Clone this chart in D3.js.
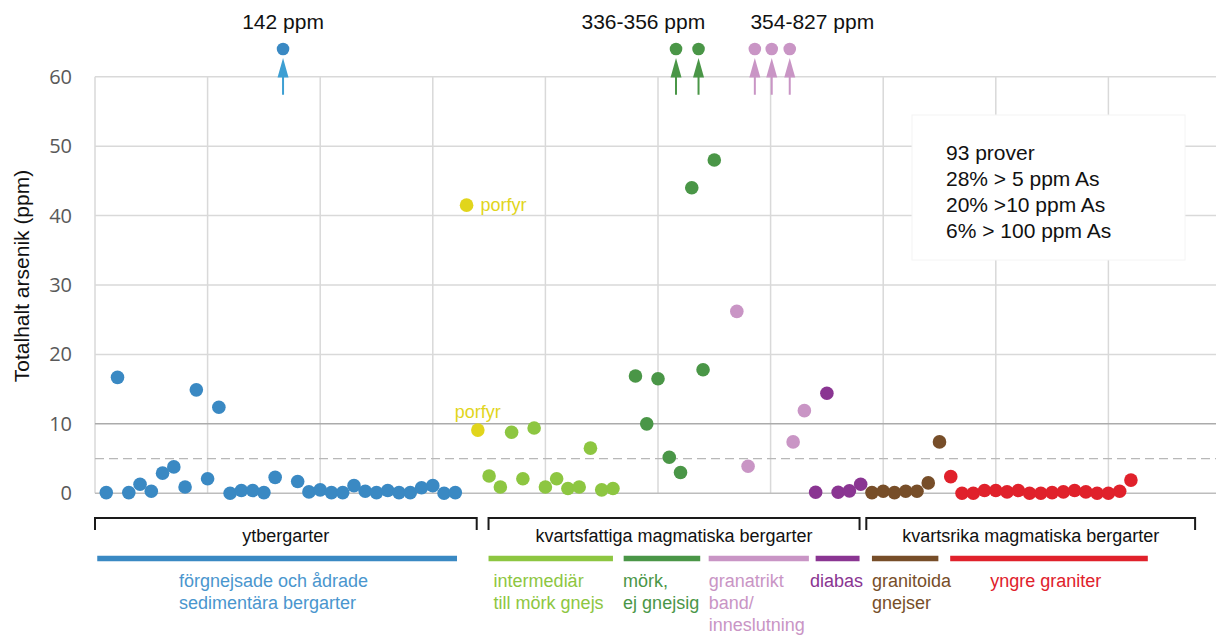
<!DOCTYPE html>
<html>
<head>
<meta charset="utf-8">
<script src="https://d3js.org/d3.v7.min.js"></script>
<style>
body { margin: 0; background: #fff; }
svg { display: block; font-family: "Liberation Sans", Arial, sans-serif; }
.tick-label { font-family: "Open Sans", sans-serif; font-size: 20px; fill: #595959; }
.grid { stroke: #d9d9d9; stroke-width: 1.5; }
</style>
</head>
<body>
<div id="chart"></div>
<script>
// Sample values (ppm As) per rock group, by sample number; null = off scale (drawn on top)
var sedValues = [0.1, 16.7, 0.1, 1.3, 0.3, 2.9, 3.8, 0.9, 14.9, 2.1, 12.4, 0, 0.4, 0.4, 0.1, 2.3,
  null, 1.7, 0.2, 0.5, 0.1, 0.1, 1.1, 0.3, 0.1, 0.4, 0.1, 0.1, 0.8, 1.1, 0, 0.1];
var porfyrValues = [41.5, 9.1];
var intermValues = [2.5, 0.9, 8.8, 2.1, 9.4, 0.9, 2.1, 0.7, 0.9, 6.5, 0.5, 0.7];
var morkValues = [null, 16.9, 10.0, 16.5, 5.2, 3.0, 44.0, 17.8, 48.0, null];
var granatValues = [26.2, 3.9, null, null, null, 7.4, 11.9];
var diabasValues = [0.15, 14.4, 0.15, 0.35, 1.3];
var granitoidValues = [0.1, 0.3, 0.1, 0.3, 0.3, 1.5, 7.4];
var yngreValues = [2.4, 0, 0, 0.4, 0.4, 0.2, 0.4, 0, 0, 0.1, 0.2, 0.4, 0.2, 0, 0, 0.3, 1.9];

// Group definitions: first sample number, colour, legend bar extent (sample units), label lines
var groups = [
  { values: sedValues, first: 1, color: "#3a89c3", text: "#4a96ce", bar: [0.2, 32.15], label: ["förgnejsade och ådrade", "sedimentära bergarter"], lx: 7.45 },
  { values: porfyrValues, first: 33, color: "#e1d51c", text: "#e1d51c", bar: null, label: [], lx: 0 },
  { values: intermValues, first: 35, color: "#8dc641", text: "#8dc641", bar: [34.95, 46.0], label: ["intermediär", "till mörk gnejs"], lx: 35.4 },
  { values: morkValues, first: 47, color: "#4a9647", text: "#4a9647", bar: [46.95, 53.75], label: ["mörk,", "ej gnejsig"], lx: 46.9 },
  { values: granatValues, first: 57, color: "#c995c5", text: "#c995c5", bar: [54.5, 63.4], label: ["granatrikt", "band/", "inneslutning"], lx: 54.5 },
  { values: diabasValues, first: 64, color: "#8a3592", text: "#8a3592", bar: [64.0, 67.9], label: ["diabas"], lx: 63.5 },
  { values: granitoidValues, first: 69, color: "#774e29", text: "#774e29", bar: [69.0, 74.9], label: ["granitoida", "gnejser"], lx: 69.0 },
  { values: yngreValues, first: 76, color: "#e0212b", text: "#e0212b", bar: [75.95, 93.5], label: ["yngre graniter"], lx: 79.5 }
];

// Off-scale samples, shown as dots with arrows above the plot
var offScale = [
  { x: 16.7, color: "#3a89c3", arrow: "#3d9fd3" },
  { x: 51.6, color: "#4a9647", arrow: "#4a9647" },
  { x: 53.6, color: "#4a9647", arrow: "#4a9647" },
  { x: 58.6, color: "#c995c5", arrow: "#c995c5" },
  { x: 60.1, color: "#c995c5", arrow: "#c995c5" },
  { x: 61.7, color: "#c995c5", arrow: "#c995c5" }
];
var offLabels = [
  { x: 16.7, text: "142 ppm" },
  { x: 48.7, text: "336-356 ppm" },
  { x: 63.7, text: "354-827 ppm" }
];

// Main rock classes (brackets)
var classes = [
  { name: "ytbergarter", range: [0, 33.9] },
  { name: "kvartsfattiga magmatiska bergarter", range: [34.95, 67.9] },
  { name: "kvartsrika magmatiska bergarter", range: [68.5, 97.7] }
];

var yTicks = [0, 10, 20, 30, 40, 50, 60];
var xTicks = d3.range(0, 101, 10);
var statLines = ["93 prover", "28% > 5 ppm As", "20% >10 ppm As", "6% > 100 ppm As"];

var width = 1216, height = 635;
var xScale = d3.scaleLinear().domain([0, 100]).range([95, 1221]);
var yScale = d3.scaleLinear().domain([0, 60]).range([493.3, 76.7]);

var svg = d3.select("#chart").append("svg").attr("width", width).attr("height", height);

// Grid
svg.append("g").selectAll("line").data(xTicks).enter().append("line")
  .attr("class", "grid")
  .attr("x1", function (d) { return xScale(d); }).attr("x2", function (d) { return xScale(d); })
  .attr("y1", yScale(60)).attr("y2", yScale(0));
svg.append("g").selectAll("line").data(yTicks).enter().append("line")
  .attr("class", "grid")
  .attr("x1", xScale(0)).attr("x2", xScale(100))
  .attr("y1", function (d) { return yScale(d); }).attr("y2", function (d) { return yScale(d); })
  .style("stroke", function (d) { return d == 10 ? "#ababab" : d == 0 ? "#bdbdbd" : null; });
svg.append("line")
  .attr("x1", xScale(0)).attr("x2", xScale(100))
  .attr("y1", yScale(5)).attr("y2", yScale(5))
  .style("stroke", "#b8b8b8").style("stroke-width", 1.2).style("stroke-dasharray", "9,5");

// Y tick labels
svg.append("g").selectAll("text").data(yTicks).enter().append("text")
  .attr("class", "tick-label")
  .attr("x", 72).attr("y", function (d) { return yScale(d); })
  .attr("dy", "0.35em").attr("text-anchor", "end")
  .text(function (d) { return d; });

svg.append("text")
  .attr("transform", "translate(29, 276) rotate(-90)")
  .attr("text-anchor", "middle")
  .style("font-size", "21px").style("fill", "#111")
  .text("Totalhalt arsenik (ppm)");

// Stats box
svg.append("rect").attr("x", 912).attr("y", 115).attr("width", 273).attr("height", 145)
  .style("fill", "#fff").style("stroke", "#f4f4f4");
svg.append("g").selectAll("text").data(statLines).enter().append("text")
  .attr("x", 946).attr("y", function (d, i) { return 160 + i * 26; })
  .style("font-size", "21px").style("fill", "#111")
  .text(function (d) { return d; });

// Dots
var points = [];
groups.forEach(function (g) {
  g.values.forEach(function (v, i) {
    if (v !== null) points.push({ x: g.first + i, y: v, color: g.color });
  });
});
svg.append("g").selectAll("circle").data(points).enter().append("circle")
  .attr("cx", function (d) { return xScale(d.x); })
  .attr("cy", function (d) { return yScale(d.y); })
  .attr("r", 6.8)
  .style("fill", function (d) { return d.color; });

// porfyr labels
svg.append("text").attr("x", xScale(33) + 14).attr("y", yScale(41.5) + 6)
  .style("font-size", "18px").style("fill", "#e1d51c").text("porfyr");
svg.append("text").attr("x", xScale(34)).attr("y", yScale(9.1) - 12)
  .attr("text-anchor", "middle")
  .style("font-size", "18px").style("fill", "#e1d51c").text("porfyr");

// Off-scale markers
var offLevel = 64;
var off = svg.append("g").selectAll("g").data(offScale).enter().append("g");
off.append("circle")
  .attr("cx", function (d) { return xScale(d.x); }).attr("cy", yScale(offLevel))
  .attr("r", 6.3).style("fill", function (d) { return d.color; });
off.append("line")
  .attr("x1", function (d) { return xScale(d.x); }).attr("x2", function (d) { return xScale(d.x); })
  .attr("y1", yScale(57.4)).attr("y2", yScale(60.5))
  .style("stroke", function (d) { return d.arrow; }).style("stroke-width", 2);
off.append("path")
  .attr("d", function (d) {
    var x = xScale(d.x), top = yScale(62.7), base = yScale(59.9);
    return "M" + x + "," + top + "L" + (x + 5.5) + "," + base + "L" + (x - 5.5) + "," + base + "Z";
  })
  .style("fill", function (d) { return d.arrow; });
svg.append("g").selectAll("text").data(offLabels).enter().append("text")
  .attr("x", function (d) { return xScale(d.x); }).attr("y", 29)
  .attr("text-anchor", "middle")
  .style("font-size", "21px").style("fill", "#111")
  .text(function (d) { return d.text; });

// Class brackets
var br = svg.append("g").selectAll("g").data(classes).enter().append("g");
br.append("path")
  .attr("d", function (d) {
    var a = xScale(d.range[0]), b = xScale(d.range[1]);
    return "M" + a + ",530V518H" + b + "V530";
  })
  .style("fill", "none").style("stroke", "#1a1a1a").style("stroke-width", 2);
br.append("text")
  .attr("x", function (d) { return (xScale(d.range[0]) + xScale(d.range[1])) / 2; })
  .attr("y", 542).attr("text-anchor", "middle")
  .style("font-size", "18px").style("fill", "#111")
  .text(function (d) { return d.name; });

// Group bars and labels
var withBar = groups.filter(function (g) { return g.bar; });
svg.append("g").selectAll("line").data(withBar).enter().append("line")
  .attr("x1", function (d) { return xScale(d.bar[0]); }).attr("x2", function (d) { return xScale(d.bar[1]); })
  .attr("y1", 558.5).attr("y2", 558.5)
  .style("stroke", function (d) { return d.color; }).style("stroke-width", 5.5);
var lab = svg.append("g").selectAll("text").data(withBar).enter().append("text")
  .attr("x", function (d) { return xScale(d.lx); })
  .attr("y", 587)
  .style("font-size", "18px").style("fill", function (d) { return d.text; });
lab.selectAll("tspan").data(function (d) { return d.label.map(function (t, i) { return { t: t, i: i, x: xScale(d.lx) }; }); })
  .enter().append("tspan")
  .attr("x", function (d) { return d.x; })
  .attr("dy", function (d) { return d.i == 0 ? 0 : 22; })
  .text(function (d) { return d.t; });
</script>
</body>
</html>
